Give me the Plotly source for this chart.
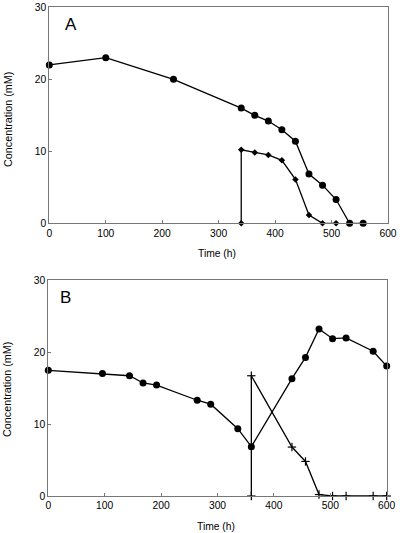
import plotly.graph_objects as go

# Panel A
a_circ_t = [0, 100, 220, 340, 364, 388, 412, 436, 460, 484, 508, 532, 556]
a_circ_c = [22.0, 23.0, 20.0, 16.0, 15.0, 14.2, 13.0, 11.4, 6.85, 5.3, 3.3, 0, 0]
a_diam_t = [340, 340, 364, 388, 412, 436, 460, 484, 508]
a_diam_c = [0, 10.2, 9.85, 9.5, 8.75, 6.1, 1.15, 0, 0]

# Panel B
b_circ_t = [0, 96, 144, 168, 192, 264, 288, 336, 360, 432, 456, 480, 504, 528, 576, 600]
b_circ_c = [17.45, 17.0, 16.7, 15.7, 15.4, 13.3, 12.75, 9.35, 6.85, 16.3, 19.25, 23.2, 21.85, 21.95, 20.1, 18.05]
b_plus_t = [360, 360, 432, 456, 480, 504, 528, 576, 600]
b_plus_c = [0, 16.7, 6.8, 4.8, 0.2, 0, 0, 0, 0]

x_ticks = [0, 100, 200, 300, 400, 500, 600]
y_ticks = [0, 10, 20, 30]

W, H = 400, 533
L, R, T, B = 30, 4, 2, 2
def px(x): return (x - L) / (W - L - R)
def py(y): return 1 - (y - T) / (H - T - B)

fig = go.Figure()
line = dict(color="black", width=1.3)

fig.add_trace(go.Scatter(x=a_diam_t, y=a_diam_c, mode="lines+markers", line=line,
                         marker=dict(symbol="diamond", size=5, color="black"),
                         xaxis="x", yaxis="y", cliponaxis=False))
fig.add_trace(go.Scatter(x=a_circ_t, y=a_circ_c, mode="lines+markers", line=line,
                         marker=dict(symbol="circle", size=7, color="black"),
                         xaxis="x", yaxis="y", cliponaxis=False))
fig.add_trace(go.Scatter(x=b_plus_t, y=b_plus_c, mode="lines+markers", line=line,
                         marker=dict(symbol="line-ns", size=6, color="black",
                                     line=dict(color="black", width=1.2)),
                         xaxis="x2", yaxis="y2", cliponaxis=False))
fig.add_trace(go.Scatter(x=b_plus_t, y=b_plus_c, mode="markers",
                         marker=dict(symbol="line-ew", size=6, color="black",
                                     line=dict(color="black", width=1.2)),
                         xaxis="x2", yaxis="y2", cliponaxis=False))
fig.add_trace(go.Scatter(x=b_circ_t, y=b_circ_c, mode="lines+markers", line=line,
                         marker=dict(symbol="circle", size=7, color="black"),
                         xaxis="x2", yaxis="y2", cliponaxis=False))

font = dict(family="Liberation Sans, Arial, sans-serif", size=10.3, color="black")
yfont = dict(family="Liberation Sans, Arial, sans-serif", size=10.8, color="black")
axis_common = dict(showgrid=False, zeroline=False, showline=True, linecolor="#777",
                   linewidth=1, mirror=True, ticks="inside", ticklen=3,
                   tickcolor="#777", tickfont=font, automargin=False)

fig.update_layout(
    width=W, height=H, margin=dict(l=L, r=R, t=T, b=B, autoexpand=False),
    paper_bgcolor="white", plot_bgcolor="white", showlegend=False,
    xaxis=dict(domain=[px(49.3), px(388)], range=[0, 600], tickvals=x_ticks, anchor="y", **axis_common),
    yaxis=dict(domain=[py(223.3), py(7.3)], range=[0, 30], tickvals=y_ticks, anchor="x", **axis_common),
    xaxis2=dict(domain=[px(48.3), px(386.7)], range=[0, 600], tickvals=x_ticks, anchor="y2", **axis_common),
    yaxis2=dict(domain=[py(496), py(280)], range=[0, 30], tickvals=y_ticks, anchor="x2", **axis_common),
)

ann = [
    dict(text="A", x=px(71), y=py(25), font=dict(family="Liberation Sans, Arial", size=17, color="black")),
    dict(text="B", x=px(65), y=py(297), font=dict(family="Liberation Sans, Arial", size=17, color="black")),
    dict(text="Time (h)", x=px(217), y=py(253), font=font),
    dict(text="Time (h)", x=px(216), y=py(526), font=font),
    dict(text="Concentration (mM)", x=px(8), y=py(120), textangle=-90, font=yfont),
    dict(text="Concentration (mM)", x=px(7), y=py(390), textangle=-90, font=yfont),
]
for a in ann:
    fig.add_annotation(xref="paper", yref="paper", showarrow=False,
                       xanchor="center", yanchor="middle", **a)

fig.write_html("out.html", config={"displayModeBar": False},
               post_script="document.body.style.margin='0';document.body.style.padding='0';")
